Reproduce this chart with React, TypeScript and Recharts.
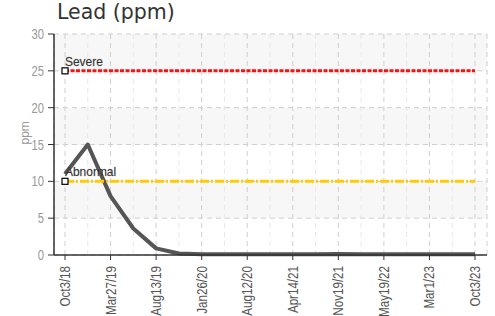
import React from "react";
import {
  LineChart,
  Line,
  XAxis,
  YAxis,
  CartesianGrid,
  ReferenceLine,
} from "recharts";

const xLabels = [
  "Oct3/18",
  "Mar27/19",
  "Aug13/19",
  "Jan26/20",
  "Aug12/20",
  "Apr14/21",
  "Nov19/21",
  "May19/22",
  "Mar1/23",
  "Oct3/23",
];

// one sample per half step between labelled dates
const leadValues = [
  11, 15, 8, 3.6, 0.9, 0.2, 0.1, 0.1, 0.1, 0.1, 0.1, 0.1, 0.15, 0.1, 0.1, 0.1,
  0.1, 0.1, 0.1,
];

const severeLimit = 25;
const abnormalLimit = 10;
const yTicks = [0, 5, 10, 15, 20, 25, 30];

const data = leadValues.map((v, i) => ({
  i,
  lead: v,
  severe: severeLimit,
  abnormal: abnormalLimit,
}));

const majorTicks = data.filter((d) => d.i % 2 === 0).map((d) => d.i);
const minorTicks = data.filter((d) => d.i % 2 === 1).map((d) => d.i);

const narrow = "'Liberation Sans', Arial, sans-serif";

function XTick(props: any) {
  const { x, y, payload } = props;
  const label = xLabels[payload.value / 2] ?? "";
  return (
    <g transform={`translate(${x},${y + 4})`}>
      <text
        transform="rotate(-90) scale(0.8,1)"
        textAnchor="end"
        dy={5}
        fontSize={14.5}
        fontFamily={narrow}
        fill="#555"
      >
        {label}
      </text>
    </g>
  );
}

function YTick(props: any) {
  const { x, y, payload } = props;
  return (
    <g transform={`translate(${x - 2},${y})`}>
      <text
        transform="scale(0.8,1)"
        textAnchor="end"
        dy={5}
        fontSize={14}
        fontFamily={narrow}
        fill="#999"
      >
        {payload.value}
      </text>
    </g>
  );
}

function limitDot(label: string) {
  return (props: any) => {
    const { cx, cy, index } = props;
    if (index !== 0) return <g key={`d${index}`} />;
    return (
      <g key={`d${index}`}>
        <rect
          x={cx - 3}
          y={cy - 3}
          width={6}
          height={6}
          fill="#fff"
          stroke="#000"
          strokeWidth={1.2}
        />
        <g transform={`translate(${cx},${cy - 5})`}>
          <text
            transform="scale(0.92,1)"
            fontSize={13}
            fontFamily={narrow}
            fill="#111"
            stroke="#888"
            strokeOpacity={0.3}
            strokeWidth={0.8}
          >
            {label}
          </text>
        </g>
      </g>
    );
  };
}

export default function App() {
  return (
    <div
      style={{
        position: "absolute",
        left: 0,
        top: 0,
        width: 495,
        height: 316,
        background: "#fff",
      }}
    >
      <div
        style={{
          position: "absolute",
          left: 57,
          top: 0,
          fontSize: 20.5,
          fontFamily: "'DejaVu Sans', sans-serif",
          color: "#333",
        }}
      >
        Lead (ppm)
      </div>
      <LineChart
        width={495}
        height={316}
        data={data}
        margin={{ top: 34, right: 8, left: 0, bottom: 0 }}
      >
        <CartesianGrid
          stroke="#cfcfcf"
          strokeDasharray="5 4"
          horizontalFill={["#f7f7f7", "#ffffff"]}
        />
        {minorTicks.map((t) => (
          <ReferenceLine
            key={t}
            x={t}
            stroke="#e8e8e8"
            strokeDasharray="5 4"
          />
        ))}
        <XAxis
          dataKey="i"
          type="number"
          domain={[0, 18]}
          ticks={majorTicks}
          interval={0}
          padding={{ left: 11, right: 12 }}
          height={61}
          tick={<XTick />}
          tickLine={{ stroke: "#333" }}
          tickSize={5}
          axisLine={{ stroke: "#333", strokeWidth: 1.5 }}
        />
        <YAxis
          domain={[0, 30]}
          ticks={yTicks}
          width={54}
          tick={<YTick />}
          tickLine={{ stroke: "#333" }}
          tickSize={6}
          axisLine={{ stroke: "#333", strokeWidth: 1.5 }}
          label={{
            value: "ppm",
            angle: -90,
            position: "insideLeft",
            offset: 25,
            fontSize: 12,
            fontFamily: narrow,
            fill: "#999",
          }}
        />
        <Line
          dataKey="lead"
          stroke="#555"
          strokeWidth={4}
          strokeLinejoin="round"
          dot={false}
          isAnimationActive={false}
        />
        <Line
          dataKey="abnormal"
          stroke="#ffcc00"
          strokeWidth={3}
          strokeDasharray="9 2 2 2"
          dot={limitDot("Abnormal")}
          isAnimationActive={false}
        />
        <Line
          dataKey="severe"
          stroke="#ff1010"
          strokeWidth={3}
          strokeDasharray="4 1.5"
          dot={limitDot("Severe")}
          isAnimationActive={false}
        />
      </LineChart>
    </div>
  );
}
